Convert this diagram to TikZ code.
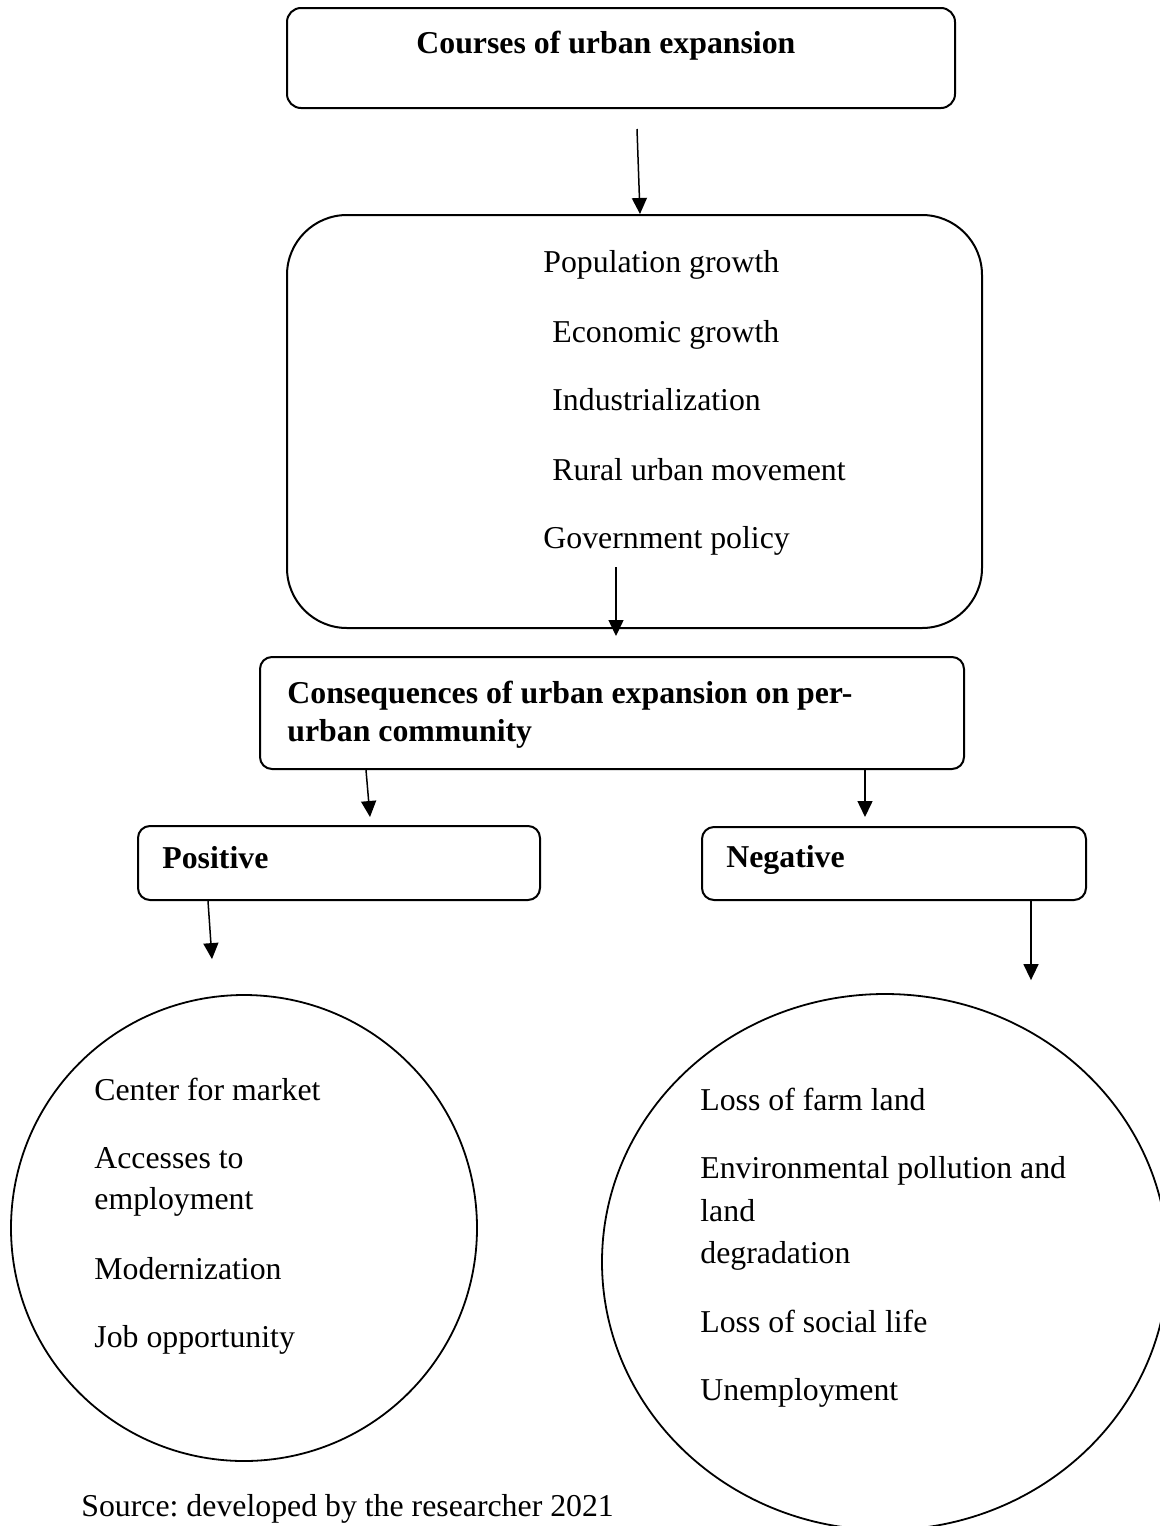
\documentclass[tikz,border=0pt]{standalone}
\usepackage{fontspec}
\setmainfont{Liberation Serif}
\usepackage{tikz}
\usetikzlibrary{positioning,calc,shapes.geometric,arrows.meta}
\frenchspacing

\begin{document}
\begin{tikzpicture}[
        x=0.5pt, y=-0.5pt,
        % --- STYLE CHUNG ---
        common/.style={
            draw=black,
            line width=1pt,
            fill=white,
            inner sep=0pt
        },
        % Style hộp bo góc
        box_node/.style={
            common,
            rectangle,
            rounded corners=7pt
        },
        % Style hình tròn / elip
        round_node/.style={
            common,
            line width=0.9pt
        },
        % Style chữ
        plain_text/.style={
            anchor=base west,
            inner sep=0pt,
            font=\fontsize{15.9}{19}\selectfont
        },
        bold_text/.style={
            plain_text,
            font=\fontsize{15.9}{19}\selectfont\bfseries
        },
        % Style mũi tên
        arrow_line/.style={
            draw=black,
            line width=0.75pt,
            -{Triangle[length=8pt,width=7.5pt]}
        }
    ]

        \useasboundingbox (0,0) rectangle (1160,1526);

        % --- CÁC HỘP ---
        \node[box_node, minimum width=334pt, minimum height=50pt] (top_box) at (621,58) {};
        \node[box_node, rounded corners=30pt, minimum width=347.5pt, minimum height=206.5pt] (cause_box) at (634.5,421.5) {};
        \node[box_node, rounded corners=6pt, minimum width=352pt, minimum height=56pt] (cons_box) at (612,713) {};
        \node[box_node, rounded corners=6pt, minimum width=201pt, minimum height=37pt] (pos_box) at (339,863) {};
        \node[box_node, rounded corners=6pt, minimum width=192pt, minimum height=36.5pt] (neg_box) at (894,863.5) {};

        % --- HÌNH TRÒN ---
        \node[round_node, circle, minimum size=233pt] (pos_circle) at (244,1228) {};
        \node[round_node, ellipse, minimum width=283pt, minimum height=268pt] (neg_circle) at (885,1262) {};

        % --- CHỮ ---
        \node[bold_text] (top_text) at (416,53) {Courses of urban expansion};
        \foreach \txt/\xx/\yy [count=\i] in {Population growth/543/272, Economic growth/552/342,
            Industrialization/552/410, Rural urban movement/552/480, Government policy/543/548} {
            \node[plain_text] (cause\i) at (\xx,\yy) {\txt};
        }
        \node[bold_text] (cons_text1) at (287,703) {Consequences of urban expansion on per-};
        \node[bold_text] (cons_text2) at (287,741) {urban community};
        \node[bold_text] (pos_text) at (162,868) {Positive};
        \node[bold_text] (neg_text) at (726,867) {Negative};

        \foreach \txt/\yy [count=\i] in {Center for market/1100, Accesses to/1168, employment/1209,
            Modernization/1279, Job opportunity/1347} {
            \node[plain_text] (pos_item\i) at (94,\yy) {\txt};
        }
        \foreach \txt/\yy [count=\i] in {Loss of farm land/1110, Environmental pollution and/1178, land/1221,
            degradation/1263, Loss of social life/1332, Unemployment/1400} {
            \node[plain_text] (neg_item\i) at (700,\yy) {\txt};
        }
        \node[plain_text] (source) at (81,1516) {Source: developed by the researcher 2021};

        % --- MŨI TÊN ---
        \draw[arrow_line] ([xshift=8pt,yshift=-10pt]top_box.south) -- ([xshift=2.75pt]cause_box.north);
        \draw[arrow_line] ([xshift=-9.25pt,yshift=31pt]cause_box.south) -- ([xshift=2pt,yshift=10pt]cons_box.north);
        \draw[arrow_line] ([xshift=-123pt]cons_box.south) -- ([xshift=15.5pt,yshift=4pt]pos_box.north);
        \draw[arrow_line] ([xshift=126.5pt]cons_box.south) -- ([xshift=-14.5pt,yshift=4.5pt]neg_box.north);
        \draw[arrow_line] ([xshift=-65.5pt]pos_box.south) -- ([xshift=-16pt,yshift=17.5pt]pos_circle.north);
        \draw[arrow_line] ([xshift=68.5pt]neg_box.south) -- ([xshift=73pt,yshift=6.5pt]neg_circle.north);

    \end{tikzpicture}
\end{document}
